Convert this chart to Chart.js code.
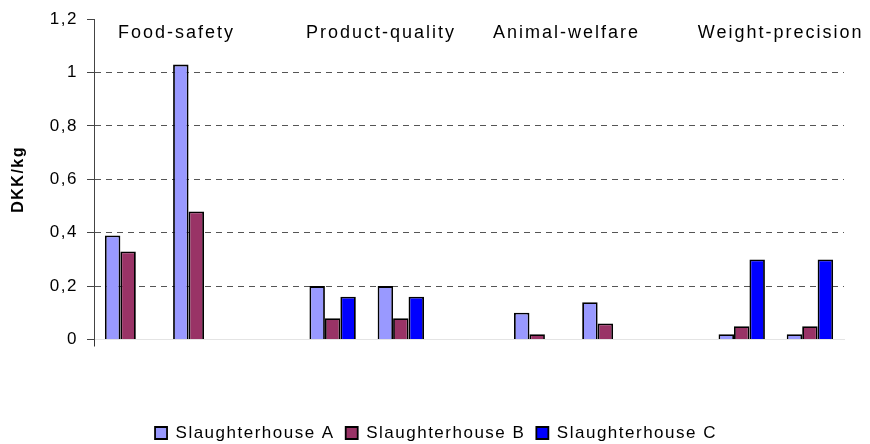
<!DOCTYPE html>
<html>
<head>
<meta charset="utf-8">
<script src="https://cdn.jsdelivr.net/npm/chart.js@4.4.1/dist/chart.umd.min.js"></script>
<style>
  html, body { margin: 0; padding: 0; background: #fff; }
  #wrap { width: 870px; height: 444px; }
</style>
</head>
<body>
<div id="wrap"><canvas id="chart"></canvas></div>
<script>
// Data (DKK/kg)
const categories = ['Food-safety 1', 'Food-safety 2', '', 'Product-quality 1', 'Product-quality 2', '',
    'Animal-welfare 1', 'Animal-welfare 2', '', 'Weight-precision 1', 'Weight-precision 2'];
const slaughterhouseA = [0.39, 1.03, null, 0.20, 0.20, null, 0.10, 0.14, null, 0.02, 0.02];
const slaughterhouseB = [0.33, 0.48, null, 0.08, 0.08, null, 0.02, 0.06, null, 0.05, 0.05];
const slaughterhouseC = [null, null, null, 0.16, 0.16, null, null, null, null, 0.30, 0.30];
const groupTitles = ['Food-safety', 'Product-quality', 'Animal-welfare', 'Weight-precision'];
const yTicks = [0, 0.2, 0.4, 0.6, 0.8, 1, 1.2];

// where the group titles sit, in category units
const titleAt = [0.71, 3.71, 6.43, 9.57];

const FONT = "'Liberation Sans', Arial, sans-serif";

// wider text spacing, like the original export
const spacing = {
    id: 'spacing',
    beforeUpdate(chart) { chart.ctx.letterSpacing = '1.5px'; },
    beforeDraw(chart) { chart.ctx.letterSpacing = '1.5px'; }
};

// legend sits a bit right of the plot centre in the original
const legendShift = {
    id: 'legendShift',
    afterLayout(chart) {
        chart.legend.left += 14;
        chart.legend.right += 14;
    }
};

// category titles above the bars
const groupLabels = {
    id: 'groupLabels',
    afterDatasetsDraw(chart) {
        const ctx = chart.ctx;
        const x = chart.scales.x;
        ctx.save();
        ctx.font = '18px ' + FONT;
        ctx.letterSpacing = '2px';
        ctx.fillStyle = '#000';
        ctx.textAlign = 'center';
        ctx.textBaseline = 'middle';
        groupTitles.forEach((t, i) => {
            ctx.fillText(t, x.getPixelForValue(titleAt[i]), chart.chartArea.top + 14);
        });
        ctx.restore();
    }
};

new Chart(document.getElementById('chart'), {
    type: 'bar',
    data: {
        labels: categories,
        datasets: [
            {
                label: 'Slaughterhouse A',
                data: slaughterhouseA,
                backgroundColor: '#9999FF',
                borderColor: '#000',
                borderWidth: 1.8
            },
            {
                label: 'Slaughterhouse B',
                data: slaughterhouseB,
                backgroundColor: '#993366',
                borderColor: '#000',
                borderWidth: 1.8
            },
            {
                label: 'Slaughterhouse C',
                data: slaughterhouseC,
                backgroundColor: '#0000FF',
                borderColor: '#000',
                borderWidth: 1.8
            }
        ]
    },
    options: {
        responsive: true,
        maintainAspectRatio: false,
        animation: false,
        categoryPercentage: 0.68,
        barPercentage: 1,
        layout: { padding: { top: 14.5, right: 26, bottom: -7.5, left: 0 } },
        plugins: {
            legend: {
                position: 'bottom',
                labels: {
                    boxWidth: 12,
                    boxHeight: 12,
                    padding: 11,
                    color: '#000',
                    font: { family: FONT, size: 17 }
                }
            },
            tooltip: { enabled: false }
        },
        scales: {
            x: {
                ticks: { display: false },
                grid: {
                    drawOnChartArea: false,
                    tickLength: 7,
                    tickColor: ctx => ctx.index === 0 ? '#333' : 'transparent'
                },
                border: { color: '#e4e4e4', width: 1 },
                afterFit: scale => { scale.height = 74; }
            },
            y: {
                min: 0,
                max: 1.2,
                afterBuildTicks: scale => { scale.ticks = yTicks.map(v => ({ value: v })); },
                ticks: {
                    color: '#000',
                    padding: 9,
                    font: { family: FONT, size: 17 },
                    callback: v => String(Math.round(v * 10) / 10).replace('.', ',')
                },
                grid: {
                    tickLength: 7,
                    lineWidth: 1,
                    tickColor: '#444',
                    color: ctx => {
                        if (ctx.tick.value === 0) return '#e4e4e4';
                        if (ctx.tick.value >= 1.2) return 'transparent';
                        return '#555';
                    }
                },
                border: {
                    color: '#444',
                    width: 1,
                    dash: ctx => (ctx.tick && ctx.tick.value > 0) ? [6, 5] : []
                },
                title: {
                    display: true,
                    text: 'DKK/kg',
                    color: '#000',
                    padding: { top: 9, bottom: 0 },
                    font: { family: FONT, size: 16, weight: 'bold' }
                },
                afterFit: scale => { scale.width = 94; }
            }
        }
    },
    plugins: [spacing, legendShift, groupLabels]
});
</script>
</body>
</html>
